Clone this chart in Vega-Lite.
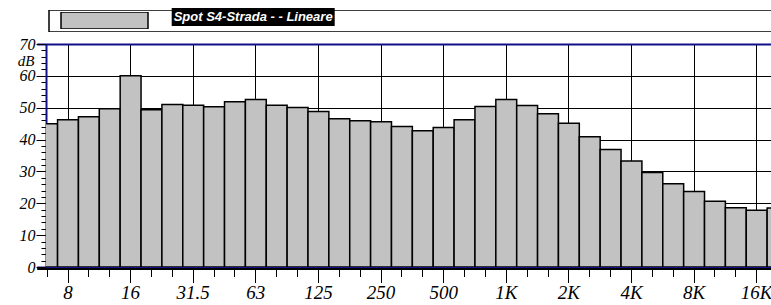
{
  "$schema": "https://vega.github.io/schema/vega-lite/v6.json",
  "width": 725,
  "height": 223,
  "autosize": {"type": "none"},
  "padding": {"left": 46, "top": 44, "right": 0, "bottom": 38},
  "background": "white",
  "config": {"view": {"stroke": null}, "font": "Liberation Serif"},
  "data": {
    "values": [
      {"band": "6.3", "level": 45.0, "series": "Spot S4-Strada - - Lineare"},
      {"band": "8", "level": 46.2, "series": "Spot S4-Strada - - Lineare"},
      {"band": "10", "level": 47.2, "series": "Spot S4-Strada - - Lineare"},
      {"band": "12.5", "level": 49.7, "series": "Spot S4-Strada - - Lineare"},
      {"band": "16", "level": 60.0, "series": "Spot S4-Strada - - Lineare"},
      {"band": "20", "level": 49.4, "series": "Spot S4-Strada - - Lineare"},
      {"band": "25", "level": 51.0, "series": "Spot S4-Strada - - Lineare"},
      {"band": "31.5", "level": 50.8, "series": "Spot S4-Strada - - Lineare"},
      {"band": "40", "level": 50.3, "series": "Spot S4-Strada - - Lineare"},
      {"band": "50", "level": 51.9, "series": "Spot S4-Strada - - Lineare"},
      {"band": "63", "level": 52.6, "series": "Spot S4-Strada - - Lineare"},
      {"band": "80", "level": 50.8, "series": "Spot S4-Strada - - Lineare"},
      {"band": "100", "level": 50.1, "series": "Spot S4-Strada - - Lineare"},
      {"band": "125", "level": 48.8, "series": "Spot S4-Strada - - Lineare"},
      {"band": "160", "level": 46.5, "series": "Spot S4-Strada - - Lineare"},
      {"band": "200", "level": 45.9, "series": "Spot S4-Strada - - Lineare"},
      {"band": "250", "level": 45.6, "series": "Spot S4-Strada - - Lineare"},
      {"band": "315", "level": 44.1, "series": "Spot S4-Strada - - Lineare"},
      {"band": "400", "level": 42.8, "series": "Spot S4-Strada - - Lineare"},
      {"band": "500", "level": 43.8, "series": "Spot S4-Strada - - Lineare"},
      {"band": "630", "level": 46.2, "series": "Spot S4-Strada - - Lineare"},
      {"band": "800", "level": 50.4, "series": "Spot S4-Strada - - Lineare"},
      {"band": "1K", "level": 52.6, "series": "Spot S4-Strada - - Lineare"},
      {"band": "1.25K", "level": 50.7, "series": "Spot S4-Strada - - Lineare"},
      {"band": "1.6K", "level": 48.1, "series": "Spot S4-Strada - - Lineare"},
      {"band": "2K", "level": 45.1, "series": "Spot S4-Strada - - Lineare"},
      {"band": "2.5K", "level": 40.9, "series": "Spot S4-Strada - - Lineare"},
      {"band": "3.15K", "level": 36.9, "series": "Spot S4-Strada - - Lineare"},
      {"band": "4K", "level": 33.3, "series": "Spot S4-Strada - - Lineare"},
      {"band": "5K", "level": 29.7, "series": "Spot S4-Strada - - Lineare"},
      {"band": "6.3K", "level": 26.1, "series": "Spot S4-Strada - - Lineare"},
      {"band": "8K", "level": 23.7, "series": "Spot S4-Strada - - Lineare"},
      {"band": "10K", "level": 20.6, "series": "Spot S4-Strada - - Lineare"},
      {"band": "12.5K", "level": 18.6, "series": "Spot S4-Strada - - Lineare"},
      {"band": "16K", "level": 17.8, "series": "Spot S4-Strada - - Lineare"},
      {"band": "20K", "level": 18.5, "series": "Spot S4-Strada - - Lineare"}
    ]
  },
  "mark": {"type": "bar", "clip": true, "strokeWidth": 1.5},
  "encoding": {
    "x": {
      "field": "band",
      "type": "nominal",
      "sort": null,
      "scale": {"range": [-9.3, 742], "paddingInner": 0, "paddingOuter": 0},
      "axis": {
        "title": null,
        "orient": "bottom",
        "bandPosition": 0.5,
        "domain": true,
        "domainColor": "black",
        "domainWidth": 2,
        "offset": 1.5,
        "ticks": true,
        "tickColor": "black",
        "tickWidth": 1,
        "tickSize": {"condition": {"test": "indexof(['8','16','31.5','63','125','250','500','1K','2K','4K','8K','16K'], datum.value) >= 0", "value": 14}, "value": 8},
        "grid": true,
        "gridColor": "black",
        "gridWidth": 1,
        "gridOpacity": {"condition": {"test": "indexof(['8','16','31.5','63','125','250','500','1K','2K','4K','8K','16K'], datum.value) >= 0", "value": 1}, "value": 0},
        "labelExpr": "indexof(['8','16','31.5','63','125','250','500','1K','2K','4K','8K','16K'], datum.label) >= 0 ? datum.label : ''",
        "labelFont": "Liberation Serif",
        "labelFontStyle": "italic",
        "labelFontSize": 19,
        "labelColor": "black",
        "labelPadding": 1,
        "labelOverlap": false,
        "labelAngle": 0
      }
    },
    "y": {
      "field": "level",
      "type": "quantitative",
      "scale": {"domain": [0, 70], "nice": false},
      "axis": {
        "title": "dB",
        "titleAngle": 0,
        "titleAlign": "right",
        "titleBaseline": "alphabetic",
        "titleX": -12,
        "titleY": 21,
        "titleFont": "Liberation Serif",
        "titleFontStyle": "italic",
        "titleFontWeight": "normal",
        "titleFontSize": 15,
        "titleColor": "black",
        "values": [0, 2, 4, 6, 8, 10, 12, 14, 16, 18, 20, 22, 24, 26, 28, 30, 32, 34, 36, 38, 40, 42, 44, 46, 48, 50, 52, 54, 56, 58, 60, 62, 64, 66, 68, 70],
        "domain": true,
        "domainColor": "#10108a",
        "domainWidth": 2,
        "tickColor": "black",
        "tickWidth": 1,
        "tickSize": {"condition": {"test": "datum.value % 10 == 0", "value": 10}, "value": 5},
        "grid": true,
        "gridColor": {"condition": {"test": "datum.value == 0 || datum.value == 70", "value": "#10108a"}, "value": "black"},
        "gridWidth": {"condition": {"test": "datum.value == 0 || datum.value == 70", "value": 2}, "value": 1},
        "gridOpacity": {"condition": {"test": "datum.value % 10 == 0", "value": 1}, "value": 0},
        "labelExpr": "datum.value % 10 == 0 ? datum.label : ''",
        "labelFont": "Liberation Serif",
        "labelFontStyle": "italic",
        "labelFontSize": 16,
        "labelColor": "black",
        "labelPadding": 1,
        "labelOverlap": false
      }
    },
    "fill": {
      "field": "series",
      "type": "nominal",
      "scale": {"range": ["#c2c2c2"]},
      "legend": {
        "title": null,
        "orient": "none",
        "legendX": 14,
        "legendY": -32,
        "zindex": 2,
        "padding": 0,
        "clipHeight": 17,
        "symbolType": "M-1,-0.1954H1V0.1954H-1Z",
        "symbolSize": 7569,
        "symbolStrokeColor": "black",
        "symbolStrokeWidth": 1.5,
        "labelExpr": "''",
        "labelOffset": 0
      }
    },
    "stroke": {
      "field": "series",
      "type": "nominal",
      "sort": null,
      "scale": {"range": ["black"]},
      "legend": {
        "title": null,
        "orient": "none",
        "legendX": 125.7,
        "legendY": -36,
        "zindex": 3,
        "padding": 2,
        "fillColor": "black",
        "clipHeight": 13,
        "symbolSize": 0,
        "symbolOpacity": 0,
        "labelOffset": -13,
        "labelColor": "white",
        "labelFont": "Liberation Sans",
        "labelFontSize": 13,
        "labelFontStyle": "italic",
        "labelFontWeight": "bold",
        "labelLimit": 400
      }
    },
    "opacity": {
      "field": "series",
      "type": "nominal",
      "sort": "descending",
      "scale": {"range": [1]},
      "legend": {
        "title": null,
        "orient": "none",
        "legendX": 2,
        "legendY": -34,
        "zindex": 1,
        "padding": 0,
        "clipHeight": 22,
        "symbolType": "M-1,-0.02973H1V0.02973H-1Z",
        "symbolSize": 547600,
        "symbolFillColor": "white",
        "symbolStrokeColor": "black",
        "symbolStrokeWidth": 1.5,
        "labelExpr": "''",
        "labelOffset": 0
      }
    }
  }
}
